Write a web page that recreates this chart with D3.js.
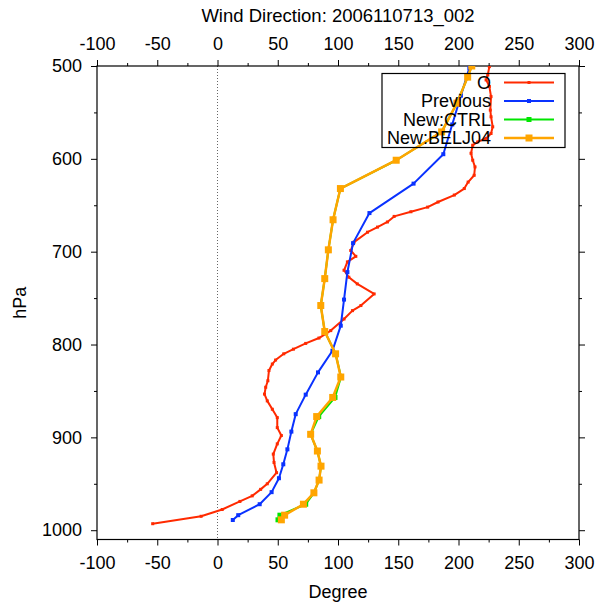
<!DOCTYPE html>
<html><head><meta charset="utf-8">
<script src="https://cdn.jsdelivr.net/npm/d3@7"></script>
<style>body{margin:0;background:#fff}svg{display:block}text{font-family:"Liberation Sans",Arial,Helvetica,sans-serif;fill:#000}</style>
</head><body><svg id="c" width="600" height="607"></svg>
<script>
const title = "Wind Direction: 2006110713_002";
const seriesNames = ["O", "Previous", "New:CTRL", "New:BELJ04"];
const xTicks = [-100, -50, 0, 50, 100, 150, 200, 250, 300];
const yTicks = [500, 600, 700, 800, 900, 1000];

const obsP = [500.7,509.7,515,522,533,547.5,554.7,565.5,572.7,578,581.7,585.3,594,601.5,608.7,617.7,625,632,639,646.5,652,657,662,668,673.5,679,689.7,698.7,705,711,720,727.5,734.7,745.5,758,763.5,772.5,785,793,798.8,805,810,816.7,821,828,839,846,853.4,860.7,869.7,878.7,889.5,898,907,918,927,938,950,956,963,969,977.7,985,993];
const obsV = [225.6,224.3,222.9,225.6,227,226.4,227,228.4,227,222.9,216,211.8,210.4,211.8,213.7,213,208,204.8,196.5,183,174.4,160.5,146.6,141,132.8,124.5,113.3,110.6,114.8,107.8,105,109,116,130,119,112,105,94,84.2,73.2,63,55,48.2,45.5,42.7,41.8,40,39,41.3,45.5,49.6,49.6,53,49.6,46.3,46.9,49,41.3,35.8,28.8,18.6,3.9,-13.6,-53.8];

const prevP = [502,532,563,595,626.7,658.4,690.8,722,751.6,779.7,806.7,830,854,875,893.8,912.9,929,944,959,972,983.8,989];
const prevV = [209,202,194.8,187.4,162.7,126.1,112.5,107.8,105,102.3,95.4,83.4,73.2,64.9,61.3,58,54.6,51,44.9,35,17.2,12.7];

const ctrlP = [500,512,540,571,601.5,632,665.6,698,729,758,786,810,835,857,877.6,896.7,914.7,931,946,959.7,972,983.8,988.8];
const ctrlV = [211,207.6,198.7,186,148.3,102,95.9,92,89,85.7,89,98,102.5,97.5,84,77.3,82.9,85.9,84.3,80,73.2,51.8,50.2];

const beljP = [500,512,540,571,601.5,632,665.6,698,729,758,786,810,835,857,877.6,896.7,914.7,931,946,959.7,972,983.8,988.8];
const beljV = [211,207.6,198.7,186,148.3,102,95.9,92,89,85.7,89,98,102.3,95.6,82.3,77.3,82.9,85.9,84.3,80,71.3,55.7,53];

const colors = ["#ff2a00", "#0a32ff", "#00e600", "#ffa500"];

const L = 97, R = 579, T = 66, B = 539.5;
const x = d3.scaleLinear().domain([-100, 300]).range([L, R]);
const y = d3.scaleLinear().domain([500, 1010]).range([T, B]);

const svg = d3.select("#c");

svg.append("defs").append("clipPath").attr("id","clip")
  .append("rect").attr("x",L).attr("y",T).attr("width",R-L).attr("height",B-T);

// zero line
svg.append("line").attr("x1",x(0)).attr("x2",x(0)).attr("y1",T).attr("y2",B)
  .attr("stroke","#666").attr("stroke-width",1).attr("stroke-dasharray","1,2");

// axes
const fs = "18px";
const fmt = d => String(d);
svg.append("g").attr("transform",`translate(0,${B})`)
  .call(d3.axisBottom(x).tickValues(xTicks).tickSize(6).tickPadding(11).tickFormat(fmt));
svg.append("g").attr("transform",`translate(0,${T})`)
  .call(d3.axisTop(x).tickValues(xTicks).tickSize(6).tickPadding(10).tickFormat(fmt));
svg.append("g").attr("transform",`translate(${L},0)`)
  .call(d3.axisLeft(y).tickValues(yTicks).tickSize(6).tickPadding(9).tickFormat(fmt));
svg.append("g").attr("transform",`translate(${R},0)`)
  .call(d3.axisRight(y).tickValues(yTicks).tickSize(6).tickFormat(""));
const minorX = d3.range(-75, 300, 50);
const minorY = d3.range(550, 1010, 100);
svg.append("g").attr("transform",`translate(0,${B})`).call(d3.axisBottom(x).tickValues(minorX).tickSize(3).tickFormat(""));
svg.append("g").attr("transform",`translate(0,${T})`).call(d3.axisTop(x).tickValues(minorX).tickSize(3).tickFormat(""));
svg.append("g").attr("transform",`translate(${L},0)`).call(d3.axisLeft(y).tickValues(minorY).tickSize(3).tickFormat(""));
svg.append("g").attr("transform",`translate(${R},0)`).call(d3.axisRight(y).tickValues(minorY).tickSize(3).tickFormat(""));
svg.selectAll(".domain").remove();
svg.selectAll(".tick line").attr("stroke","#000").attr("stroke-width",1);
svg.selectAll(".tick text").style("font-size",fs).attr("fill","#000");
svg.append("rect").attr("x",L).attr("y",T).attr("width",R-L).attr("height",B-T)
  .attr("fill","none").attr("stroke","#000").attr("stroke-width",1.2);

// titles
svg.append("text").attr("x",(L+R)/2).attr("y",21.5).attr("text-anchor","middle").style("font-size","18.5px").text(title);
svg.append("text").attr("x",(L+R)/2).attr("y",598).attr("text-anchor","middle").style("font-size","18px").text("Degree");
svg.append("text").attr("transform",`translate(26,${(T+B)/2}) rotate(-90)`).attr("text-anchor","middle").style("font-size","18px").text("hPa");

// series
const series = [
  {p: obsP, v: obsV, c: colors[0], w: 2, m: 3},
  {p: prevP, v: prevV, c: colors[1], w: 2, m: 4},
  {p: ctrlP, v: ctrlV, c: colors[2], w: 2, m: 5},
  {p: beljP, v: beljV, c: colors[3], w: 2.5, m: 7}
];
const line = d3.line().x(d => x(d[1])).y(d => y(d[0]));
const g = svg.append("g").attr("clip-path","url(#clip)");
series.forEach(s => {
  const pts = s.p.map((p,i) => [p, s.v[i]]);
  g.append("path").datum(pts).attr("d", line).attr("fill","none")
    .attr("stroke", s.c).attr("stroke-width", s.w).attr("stroke-linejoin","round");
  g.selectAll(null).data(pts).enter().append("rect")
    .attr("x", d => x(d[1]) - s.m/2).attr("y", d => y(d[0]) - s.m/2)
    .attr("width", s.m).attr("height", s.m).attr("fill", s.c);
});

// legend
const lg = svg.append("g");
lg.append("rect").attr("x",382).attr("y",73.5).attr("width",183).attr("height",74)
  .attr("fill","none").attr("stroke","#000").attr("stroke-width",1.2);
const rowY = [82.5, 101, 119.5, 138];
seriesNames.forEach((n,i) => {
  lg.append("text").attr("x",491).attr("y",rowY[i]).attr("dy","0.35em")
    .attr("text-anchor","end").style("font-size","18px").text(n);
  lg.append("line").attr("x1",504).attr("x2",554).attr("y1",rowY[i]).attr("y2",rowY[i])
    .attr("stroke",colors[i]).attr("stroke-width", series[i].w);
  lg.append("rect").attr("x",529 - series[i].m/2).attr("y",rowY[i]-series[i].m/2)
    .attr("width",series[i].m).attr("height",series[i].m).attr("fill",colors[i]);
});
</script></body></html>
